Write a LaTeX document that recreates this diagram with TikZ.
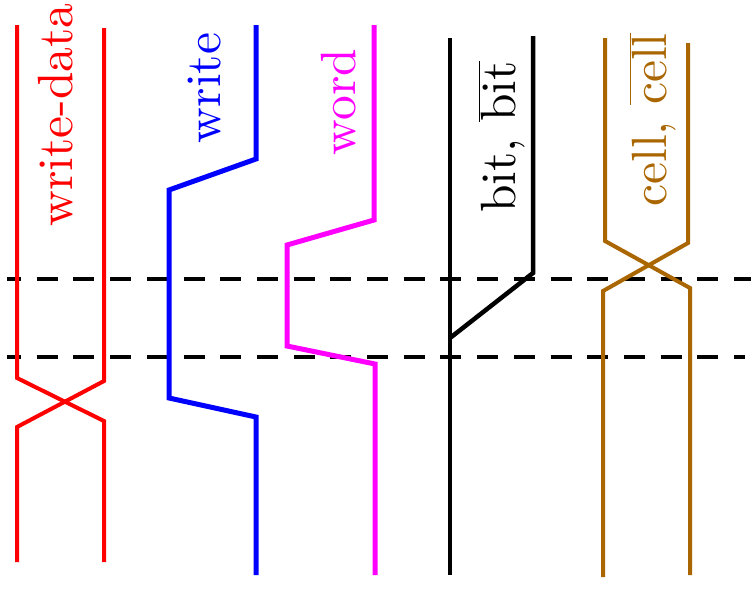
\documentclass[tikz,border=0pt]{standalone}
\usepackage{fontspec}
\usepackage{xcolor}
\newfontfamily\lblfont{lmroman10-regular}[Extension=.otf]
\definecolor{cellbrown}{RGB}{170,102,0}
\definecolor{wordpink}{RGB}{255,0,255}
\begin{document}
\begin{tikzpicture}[x=1pt,y=-1pt,
  sig/.style={line width=4.5pt,line join=miter},
  lbl/.style={anchor=base,rotate=90,inner sep=0pt,font=\lblfont\fontsize{49.5}{54}\selectfont},
  guide/.style={line width=4.5pt,dash pattern=on 21pt off 15.7pt,dash phase=7pt}]
\useasboundingbox (0,0) rectangle (751,592);

% reference time lines
\coordinate (g1a) at (7,279);   \coordinate (g1b) at (751,279);
\coordinate (g2a) at (7,357);   \coordinate (g2b) at (745,357);
\draw[guide] (g1a) -- (g1b);
\draw[guide] (g2a) -- (g2b);

% write-data: differential pair swapping
\draw[sig,red,line width=4pt] (17,25) -- (17,378) -- (104,421) -- (104,562);
\draw[sig,red,line width=4pt] (104,28) -- (104,381) -- (17,427) -- (17,562);

% write enable
\draw[sig,blue,line width=5pt] (256,25) -- (256,159) -- (169,190) -- (169,398) -- (256,417) -- (256,575);

% word line
\draw[sig,wordpink,line width=5pt] (374,25) -- (374,220) -- (287,245) -- (287,346) -- (375,364) -- (375,575);

% bit lines
\draw[sig,black] (450,38) -- (450,575);
\draw[sig,black] (533,36) -- (533,273) -- (450,338);

% cell nodes
\draw[sig,cellbrown,line width=4pt] (605,38) -- (605,241) -- (690,288) -- (690,575);
\draw[sig,cellbrown,line width=4pt] (688,43) -- (688,243) -- (603,291) -- (603,577);

% labels
\node[lbl,red] (lwd) at (72,115) {write-data};
\node[lbl,blue] (lw) at (220,88) {write};
\node[lbl,wordpink] (lword) at (355,102) {word};
\node[lbl,black] (lbit) at (515,137) {bit, $\overline{\mbox{bit}}$};
\node[lbl,cellbrown] (lcell) at (666,120) {cell, $\overline{\mbox{cell}}$};
\end{tikzpicture}
\end{document}
